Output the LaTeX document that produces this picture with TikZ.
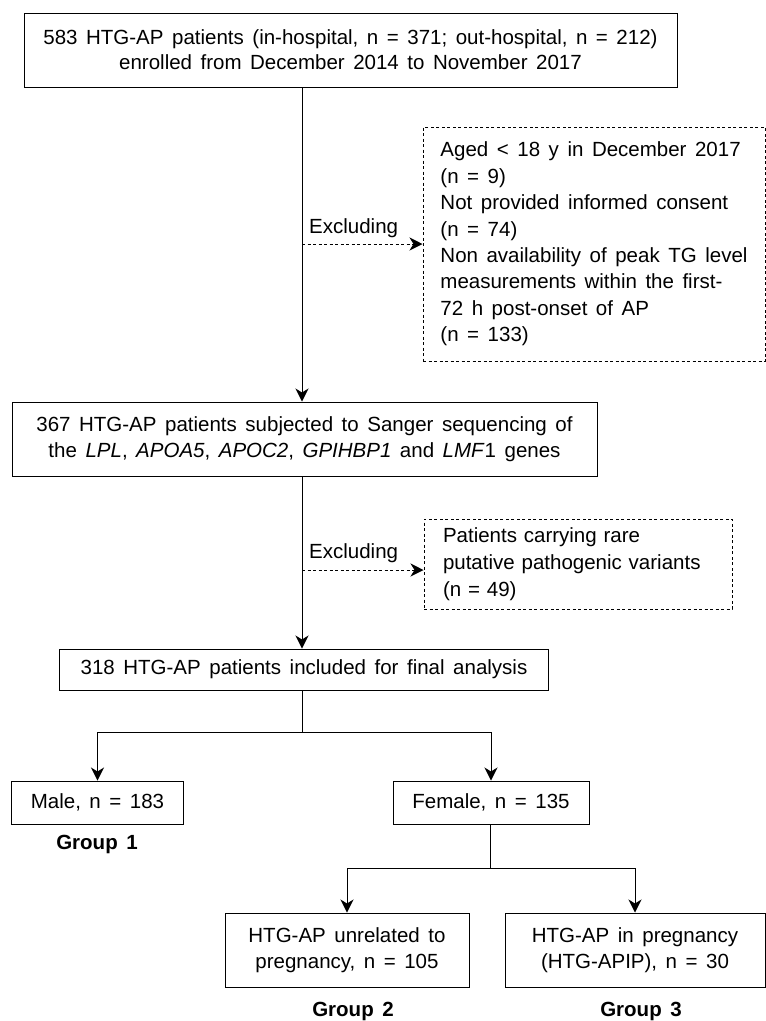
\documentclass[tikz,border=0pt]{standalone}
\usepackage{fontspec}
\setmainfont{Liberation Sans}[WordSpace=1.5]
\usetikzlibrary{arrows.meta,calc}
\tikzset{
  box/.style={draw, line width=1pt, inner sep=0pt, align=center, font=\fontsize{20.5}{26}\selectfont},
  dbox/.style={draw, line width=1pt, dash pattern=on 3pt off 2.5pt, inner sep=0pt, align=left, font=\fontsize{20.5}{26.4}\selectfont},
  lbl/.style={inner sep=0pt, font=\fontsize{20.5}{26}\selectfont},
  grp/.style={inner sep=0pt, font=\fontsize{20.5}{26}\selectfont\bfseries},
  arr/.style={line width=1pt, -{Stealth[length=13pt,width=13pt,inset=4pt]}},
  darr/.style={arr, dash pattern=on 3pt off 2.5pt},
  ln/.style={line width=1pt}
}
\begin{document}
\begin{tikzpicture}[x=1pt,y=-1pt]
\useasboundingbox (0,0) rectangle (766,1021);
\node[box, minimum width=653, minimum height=74, font=\fontsize{20.5}{25}\selectfont] (top) at (350.5,50)
  {583 HTG-AP patients (in-hospital, n = 371; out-hospital, n = 212)\\enrolled from December 2014 to November 2017};
\node[dbox, minimum width=342, minimum height=234] (ex1) at (594,244)
  {Aged < 18 y in December 2017\\(n = 9)\\Not provided informed consent\\(n = 74)\\Non availability of peak TG level\\measurements within the first-\\72 h post-onset of AP\\(n = 133)};
\node[dbox, text width=270, inner xsep=19, minimum height=90, font=\fontsize{20.5}{27}\selectfont] (ex2) at (578,564)
  {Patients carrying rare\\putative pathogenic variants\\(n = 49)};
\node[box, minimum width=585, minimum height=74] (box2) at (304.5,439)
  {367 HTG-AP patients subjected to Sanger sequencing of\\the \textit{LPL}, \textit{APOA5}, \textit{APOC2}, \textit{GPIHBP1} and \textit{LMF}1 genes};
\node[box, minimum width=489, minimum height=41] (box3) at (304,669.5)
  {318 HTG-AP patients included for final analysis};
\node[box, minimum width=171.5, minimum height=43] (male) at (97.5,802.5) {Male, n = 183};
\node[box, minimum width=196, minimum height=43] (female) at (491,802.5) {Female, n = 135};
\node[box, minimum width=244, minimum height=74] (g2box) at (347,950) {HTG-AP unrelated to\\pregnancy, n = 105};
\node[box, minimum width=260, minimum height=74] (g3box) at (635,950) {HTG-AP in pregnancy\\(HTG-APIP), n = 30};
\node[grp] (g1) at (97,844) {Group 1};
\node[grp] (g2) at (353,1011) {Group 2};
\node[grp] (g3) at (641,1011) {Group 3};
\node[lbl, anchor=base west] (exl1) at (309,233) {Excluding};
\node[lbl, anchor=base west] (exl2) at (309,558) {Excluding};
% connectors
\draw[arr] (top.south -| 302,0) -- (302,0 |- box2.north);
\draw[darr] (ex1.west -| 302,0) -- (ex1.west);
\draw[arr] (box2.south -| 302,0) -- (302,0 |- box3.north);
\coordinate (e2) at ($(ex2.west)+(0,6)$);
\draw[darr] (e2 -| 302,0) -- (e2);
\coordinate (b1) at (302,732);
\draw[ln] (box3.south -| b1) -- (b1);
\draw[arr] (b1) -| (male.north);
\draw[arr] (b1) -| (female.north);
\coordinate (b2) at (490,868);
\draw[ln] (female.south -| b2) -- (b2);
\draw[arr] (b2) -| (g2box.north);
\draw[arr] (b2) -| (g3box.north);
\end{tikzpicture}
\end{document}
